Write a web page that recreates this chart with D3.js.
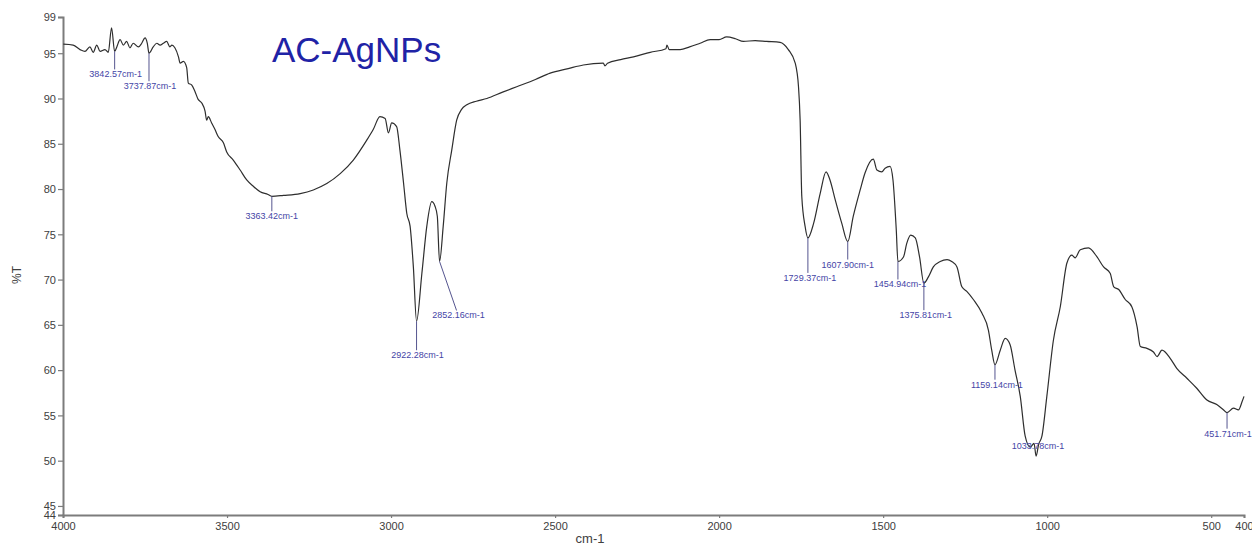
<!DOCTYPE html>
<html>
<head>
<meta charset="utf-8">
<script src="https://cdn.jsdelivr.net/npm/d3@7"></script>
<style>
  html, body { margin: 0; padding: 0; background: #fff; }
  svg { display: block; }
</style>
</head>
<body>
<svg id="chart" width="1252" height="546"></svg>
<script>
// FTIR spectrum of AC-AgNPs: wavenumber (cm-1) and transmittance (%T)
const wavenumber = [
  3999, 3969, 3948, 3933, 3918, 3908, 3897, 3887, 3872, 3862,
  3852, 3842.57, 3836, 3826, 3816, 3806, 3796, 3786, 3770, 3760,
  3750, 3743, 3737.87, 3725, 3714, 3704, 3694, 3684, 3674, 3668,
  3659, 3648, 3643, 3633, 3623, 3618, 3608, 3598, 3588, 3577,
  3567, 3562, 3557, 3547, 3537, 3527, 3511, 3501, 3481, 3460,
  3440, 3420, 3399, 3375, 3363.42, 3328, 3277, 3237, 3196, 3155,
  3115, 3074, 3054, 3034, 3018, 3008, 2998, 2983, 2973, 2962,
  2952, 2942, 2932, 2922.28, 2906, 2891, 2876, 2866, 2859, 2852.16,
  2841, 2830, 2815, 2800, 2785, 2769, 2740, 2708, 2660, 2617,
  2560, 2515, 2460, 2414, 2353, 2348, 2340, 2300, 2261, 2210,
  2162, 2159, 2152, 2119, 2090, 2058, 2027, 2000, 1977, 1950,
  1926, 1890, 1855, 1814, 1789, 1768, 1758, 1753, 1748, 1738,
  1729.37, 1712, 1692, 1674, 1662, 1646, 1626, 1607.90, 1591, 1570,
  1555, 1530, 1519, 1504, 1494, 1479, 1470, 1460, 1454.94, 1438,
  1428, 1416, 1402, 1389, 1375.81, 1362, 1347, 1326, 1305, 1291,
  1275, 1260, 1245, 1225, 1199, 1179, 1169, 1159.14, 1143, 1128,
  1113, 1098, 1082, 1067, 1052, 1040, 1033.78, 1026, 1016, 1001,
  981, 960, 940, 925, 915, 899, 874, 848, 828, 808,
  797, 782, 762, 742, 726, 716, 696, 676, 665, 650,
  625, 605, 574, 544, 513, 483, 462, 451.71, 432, 417,
  406, 400
];
const transmittance = [
  96.0, 95.9, 95.4, 95.2, 95.7, 95.1, 95.9, 95.2, 95.4, 95.1,
  97.8, 95.2, 95.7, 96.5, 95.9, 96.3, 95.6, 96.1, 95.7, 96.1,
  96.7, 96.1, 95.0, 95.7, 96.1, 95.9, 96.1, 96.3, 95.7, 95.9,
  95.6, 94.6, 93.9, 94.1, 93.4, 91.7, 91.5, 90.8, 89.9, 89.5,
  88.6, 87.6, 88.0, 87.3, 86.6, 85.8, 85.1, 84.1, 83.2, 82.1,
  81.0, 80.3, 79.7, 79.4, 79.2, 79.3, 79.5, 79.9, 80.6, 81.7,
  83.2, 85.4, 86.6, 88.0, 87.8, 86.2, 87.3, 86.9, 84.3, 80.7,
  77.3, 75.9, 71.4, 65.4, 70.7, 75.9, 78.6, 78.1, 77.0, 72.0,
  75.9, 80.7, 84.3, 87.6, 88.8, 89.3, 89.7, 90.0, 90.7, 91.3,
  92.1, 92.8, 93.3, 93.7, 93.9, 93.6, 93.9, 94.3, 94.6, 95.1,
  95.5, 95.9, 95.4, 95.4, 95.7, 96.1, 96.5, 96.5, 96.8, 96.6,
  96.3, 96.4, 96.3, 96.2, 95.4, 93.9, 91.3, 87.6, 79.2, 75.9,
  74.6, 76.2, 79.5, 81.9, 81.0, 78.8, 76.2, 74.2, 77.0, 79.9,
  81.8, 83.3, 82.1, 81.9, 82.3, 82.5, 81.0, 75.5, 72.0, 72.5,
  74.0, 74.9, 74.6, 72.5, 69.6, 70.3, 71.4, 72.0, 72.2, 72.0,
  71.4, 69.2, 68.7, 67.8, 66.3, 64.4, 62.2, 60.6, 62.2, 63.5,
  62.8, 60.0, 57.1, 52.7, 51.5, 51.9, 50.5, 51.8, 52.7, 57.1,
  63.3, 67.0, 71.8, 72.7, 72.4, 73.3, 73.5, 72.5, 71.4, 70.7,
  69.2, 68.9, 67.8, 67.0, 64.8, 62.6, 62.4, 62.0, 61.5, 62.2,
  61.3, 60.2, 59.1, 58.0, 56.7, 56.2, 55.6, 55.3, 55.8, 55.6,
  56.5, 57.1
];

// Annotated absorption bands
const peakWavenumbers = [3842.57, 3737.87, 3363.42, 2922.28, 2852.16, 1729.37, 1607.90, 1454.94, 1375.81, 1159.14, 1033.78, 451.71];
const peakLabels = ["3842.57cm-1", "3737.87cm-1", "3363.42cm-1", "2922.28cm-1", "2852.16cm-1", "1729.37cm-1", "1607.90cm-1", "1454.94cm-1", "1375.81cm-1", "1159.14cm-1", "1033.78cm-1", "451.71cm-1"];

const xTicks = [4000, 3500, 3000, 2500, 2000, 1500, 1000, 500, 400];
const yTicks = [44, 45, 50, 55, 60, 65, 70, 75, 80, 85, 90, 95, 99];

// Label placement relative to each band point (pixels): text centre offset
const labelOffsets = [
  [1, 23], [1, 33], [0, 20], [1, 34], [19, 54], [2, 40],
  [0, 23], [2, 23], [2, 32], [2, 20], [2, -10], [1, 21]
];

const svg = d3.select("#chart");
const x = d3.scaleLinear().domain([4000, 400]).range([63, 1244]);
const y = d3.scaleLinear().domain([44, 99]).range([515, 17]);

const data = wavenumber.map((w, i) => ({ w, t: transmittance[i] }));

// Axes
const yAxis = svg.append("g")
  .attr("transform", `translate(${x.range()[0]},0)`)
  .call(d3.axisLeft(y).tickValues(yTicks).tickSize(5).tickPadding(2).tickFormat(d3.format("d")));
const xAxis = svg.append("g")
  .attr("transform", `translate(0,${y.range()[0]})`)
  .call(d3.axisBottom(x).tickValues(xTicks).tickSize(3).tickPadding(4).tickFormat(d3.format("d")));

[yAxis, xAxis].forEach(g => {
  g.select(".domain").attr("stroke", "#7c7c7c").attr("stroke-width", 2);
  g.selectAll(".tick line").attr("stroke", "#7c7c7c").attr("stroke-width", 1.2);
  g.selectAll(".tick text")
    .attr("fill", "#404040")
    .style("font-family", "'Liberation Sans', Arial, sans-serif")
    .style("font-size", "11px");
});
yAxis.selectAll(".tick text").attr("dy", "0.35em");

// Axis titles
svg.append("text")
  .attr("transform", "translate(21,275) rotate(-90)")
  .attr("text-anchor", "middle")
  .attr("fill", "#404040")
  .style("font-family", "'Liberation Sans', Arial, sans-serif")
  .style("font-size", "12px")
  .text("%T");
svg.append("text")
  .attr("x", 590).attr("y", 543)
  .attr("text-anchor", "middle")
  .attr("fill", "#404040")
  .style("font-family", "'Liberation Sans', Arial, sans-serif")
  .style("font-size", "13px")
  .text("cm-1");

// Spectrum trace
const line = d3.line()
  .x(d => x(d.w))
  .y(d => y(d.t))
  .curve(d3.curveMonotoneX);
svg.append("path")
  .datum(data)
  .attr("fill", "none")
  .attr("stroke", "#2e2e2e")
  .attr("stroke-width", 1.2)
  .attr("stroke-linejoin", "round")
  .attr("d", line);

// Band annotations
const ann = svg.append("g");
peakWavenumbers.forEach((pw, i) => {
  const pt = data.find(d => d.w === pw);
  const px = x(pt.w), py = y(pt.t);
  const [dx, dy] = labelOffsets[i];
  const tx = px + dx, ty = py + dy;
  if (dy > 0) {
    ann.append("line")
      .attr("x1", px).attr("y1", py)
      .attr("x2", dx > 5 ? tx - 2 : px).attr("y2", ty - 5)
      .attr("stroke", "#55558f")
      .attr("stroke-width", 1);
  }
  ann.append("text")
    .attr("x", tx).attr("y", ty + 3)
    .attr("text-anchor", "middle")
    .attr("fill", "#4444a6")
    .style("font-family", "'Liberation Sans', Arial, sans-serif")
    .style("font-size", "9px")
    .text(peakLabels[i]);
});

// Sample title
svg.append("text")
  .attr("x", 272).attr("y", 62)
  .attr("fill", "#1f23a6")
  .style("font-family", "'Liberation Sans', Arial, sans-serif")
  .style("font-size", "35px")
  .text("AC-AgNPs");
</script>
</body>
</html>
